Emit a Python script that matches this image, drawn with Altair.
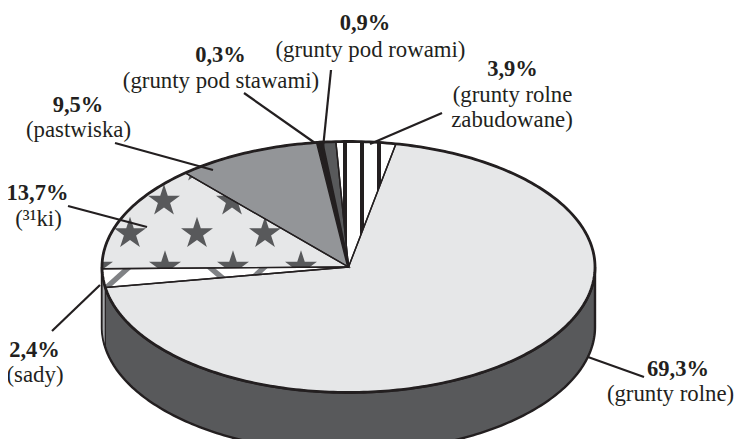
import math
import altair as alt

# ---- data
names = ["grunty rolne", "sady", "łąki", "pastwiska", "grunty pod stawami", "grunty pod rowami", "grunty rolne zabudowane"]
shares = [69.3, 2.4, 13.7, 9.5, 0.3, 0.9, 3.9]
bold_labels = ["69,3%", "2,4%", "13,7%", "9,5%", "0,3%", "0,9%", "3,9%"]
bold_x = [678, 34.5, 37.5, 78, 220.5, 365, 512.5]
bold_y = [376, 357, 200, 112, 62, 30, 76]
sub_labels = ["(grunty rolne)", "(sady)", "(³¹ki)", "(pastwiska)", "(grunty pod stawami)", "(grunty pod rowami)", "(grunty rolne", "zabudowane)"]
sub_x = [670.5, 35, 38.5, 78.5, 221, 370.5, 512.5, 512]
sub_y = [401, 382, 226, 137, 88, 57, 102, 127]
lead_x1 = [644, 52, 68, 115, 244, 331, 442]
lead_y1 = [377, 331, 206, 143, 93, 70, 113]
lead_x2 = [588, 100, 147, 213, 315, 323, 370]
lead_y2 = [357, 285, 227, 170, 143, 148, 144]
fills = ["#e6e7e8", "#ffffff", "#e6e7e8", "#939598", "#231f20", "#58595b", "#ffffff"]

# ---- layout of the drawing (image pixels)
W, H, M = 726, 431, 8
CX, CY, RX, RY, DEPTH = 348.5, 267, 246.5, 125.5, 60
START = 11.1
INK, DARK = "#231f20", "#58595b"
star_centres = [(198, 167), (164, 201), (232, 201), (300, 201), (130, 233.5), (197, 233.5), (265, 233.5),
                (97, 267), (165, 267), (233, 267), (301, 267)]
STAR_R = 16.8
stripe_xs = [345, 362, 379]
hatch = [((117, 278), -0.9), ((258, 273), -0.9), ((220, 276), 0.85)]


def pt(deg, dy=0):
    a = math.radians(deg)
    return (CX + RX * math.sin(a), CY - RY * math.cos(a) + dy)


def arc(a, b, dy=0):
    n = max(2, int(abs(b - a) / 1.0) + 1)
    return [pt(a + (b - a) * i / n, dy) for i in range(n + 1)]


def clip(poly, region):
    """Sutherland-Hodgman clip against a convex clockwise (on screen) region."""
    out = poly
    for i in range(len(region)):
        ax, ay = region[i]
        bx, by = region[(i + 1) % len(region)]
        if abs(ax - bx) + abs(ay - by) < 1e-9:
            continue
        side = lambda p: (bx - ax) * (p[1] - ay) - (by - ay) * (p[0] - ax)
        res = []
        for j in range(len(out)):
            p, q = out[j], out[(j + 1) % len(out)]
            sp, sq = side(p), side(q)
            if sp >= 0:
                res.append(p)
            if sp * sq < 0:
                t = sp / (sp - sq)
                res.append((p[0] + t * (q[0] - p[0]), p[1] + t * (q[1] - p[1])))
        out = res
        if not out:
            break
    return out


features = []


def add(poly, fill, stroke="none", sw=0, closed=True):
    coords = [[round(x, 2), round(y, 2)] for x, y in poly]
    if closed:
        coords.append(coords[0])
        geom = {"type": "Polygon", "coordinates": [coords]}
    else:
        geom = {"type": "LineString", "coordinates": coords}
    features.append({"type": "Feature", "geometry": geom,
                     "properties": {"fill": fill, "stroke": stroke, "sw": sw}})


# angular extents from the shares
edges = [START]
for s in shares:
    edges.append(edges[-1] + s * 3.6)
wedges = [[(CX, CY)] + arc(edges[i], edges[i + 1]) for i in range(len(shares))]

# side wall
front = arc(90, 270)
add(front + arc(270, 90, DEPTH), DARK, INK, 2.4)
# the "sady" piece of the side wall
add(arc(edges[1], edges[2]) + arc(edges[2], edges[1], DEPTH), "#a7a9ac", INK, 1.2)

# top faces
for i, poly in enumerate(wedges):
    add(poly, fills[i], "none", 0)

# patterns
for cx, cy in star_centres:
    star = []
    for k in range(10):
        r = STAR_R if k % 2 == 0 else STAR_R * 0.382
        a = math.radians(36 * k)
        star.append((cx + r * math.sin(a), cy - r * math.cos(a)))
    c = clip(star, wedges[2])
    if len(c) > 2:
        add(c, DARK)
for x in stripe_xs:
    c = clip([(x - 2, 130), (x + 2, 130), (x + 2, 270), (x - 2, 270)], wedges[6])
    if len(c) > 2:
        add(c, INK)
for (hx, hy), slope in hatch:
    dx = 30
    hw = 3.6
    c = clip([(hx - dx, hy - slope * dx - hw), (hx + dx, hy + slope * dx - hw),
              (hx + dx, hy + slope * dx + hw), (hx - dx, hy - slope * dx + hw)], wedges[1])
    if len(c) > 2:
        add(c, "#808285")

# wedge borders and the rim
for i, poly in enumerate(wedges):
    add(poly, "none", INK, 3 if i == 4 else 1.4)
add(arc(0, 360), "none", INK, 2.8, closed=False)

geo = (
    alt.Chart(alt.Data(values=features))
    .mark_geoshape()
    .encode(
        fill=alt.Fill("properties.fill:N", scale=None),
        stroke=alt.Stroke("properties.stroke:N", scale=None),
        strokeWidth=alt.StrokeWidth("properties.sw:Q", scale=None),
    )
    .project(type="identity", scale=1, translate=[-M, -M])
)

xs = alt.Scale(domain=[M, M + W], range=[0, W])
ys = alt.Scale(domain=[M, M + H], range=[0, H])

lead_rows = [dict(x=a, y=b, x2=c, y2=d) for a, b, c, d in zip(lead_x1, lead_y1, lead_x2, lead_y2)]
leaders = alt.Chart(alt.Data(values=lead_rows)).mark_rule(color=INK, strokeWidth=2.2).encode(
    x=alt.X("x:Q", scale=xs, axis=None), y=alt.Y("y:Q", scale=ys, axis=None), x2="x2:Q", y2="y2:Q")

bold_rows = [dict(t=t, x=x, y=y) for t, x, y in zip(bold_labels, bold_x, bold_y)]
sub_rows = [dict(t=t, x=x, y=y) for t, x, y in zip(sub_labels, sub_x, sub_y)]


def text_layer(rows, size, weight):
    return alt.Chart(alt.Data(values=rows)).mark_text(
        font="Liberation Serif", fontSize=size, fontWeight=weight, color=INK,
        align="center", baseline="alphabetic",
    ).encode(x=alt.X("x:Q", scale=xs, axis=None), y=alt.Y("y:Q", scale=ys, axis=None), text="t:N")


chart = alt.layer(geo, leaders, text_layer(bold_rows, 22.5, "bold"), text_layer(sub_rows, 22.8, "normal")).properties(
    width=W, height=H, padding=0, autosize=alt.AutoSizeParams(type="none"),
    background="white",
).configure_view(stroke=None)

chart.save("out.html", embed_options={"renderer": "svg", "actions": False})
